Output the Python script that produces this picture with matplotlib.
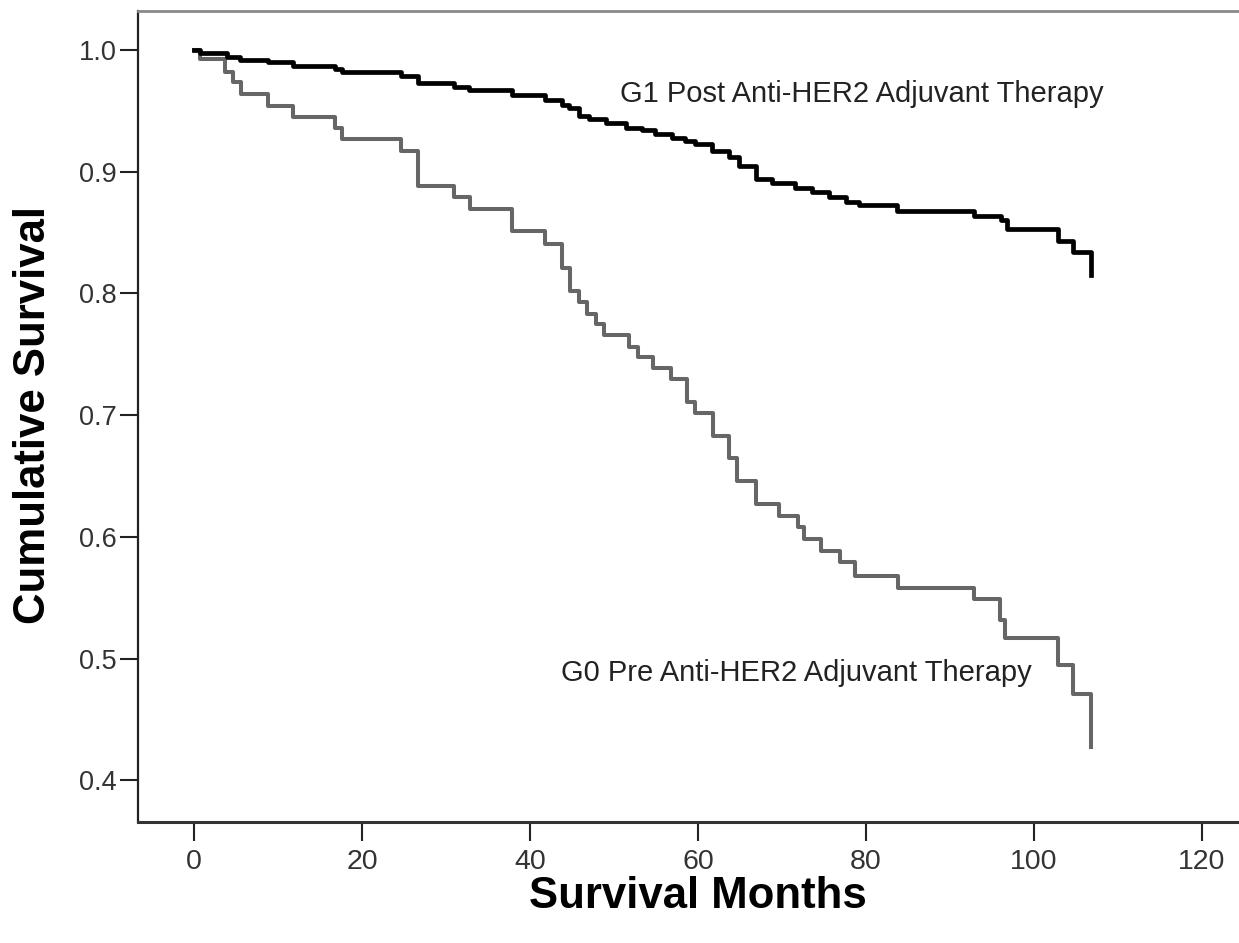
import matplotlib
matplotlib.use("Agg")
import matplotlib.pyplot as plt

plt.rcParams['font.family'] = ['Liberation Sans', 'DejaVu Sans']

# G1: Post Anti-HER2 adjuvant therapy (black)
g1_time = [0, 0.7, 3.9, 5.5, 8.8, 11.8, 16.8, 17.6, 24.7, 26.7, 30.9, 32.7, 37.8,
           41.8, 43.8, 44.6, 45.8, 47.0, 49.0, 51.4, 53.3, 54.9, 56.9, 58.5, 59.7,
           61.7, 63.7, 64.9, 66.9, 68.8, 71.6, 73.6, 75.6, 77.6, 79.2, 83.7, 92.9,
           96.1, 96.8, 102.8, 104.6, 106.8]
g1_surv = [1.0, 0.9975, 0.9945, 0.992, 0.990, 0.987, 0.984, 0.982, 0.979, 0.973, 0.970, 0.967, 0.963,
           0.959, 0.955, 0.952, 0.946, 0.943, 0.940, 0.936, 0.934, 0.931, 0.928, 0.925, 0.923,
           0.917, 0.912, 0.905, 0.894, 0.891, 0.887, 0.883, 0.879, 0.875, 0.873, 0.868, 0.864,
           0.860, 0.853, 0.843, 0.834, 0.815]

# G0: Pre Anti-HER2 adjuvant therapy (grey)
g0_time = [0, 0.7, 3.7, 4.65, 5.64, 8.83, 11.8, 16.8, 17.6, 24.7, 26.7, 30.9, 32.8, 37.8,
           41.8, 43.8, 44.8, 45.8, 46.8, 47.8, 48.8, 51.8, 52.8, 54.7, 56.8, 58.7, 59.6,
           61.8, 63.7, 64.6, 66.9, 69.6, 71.9, 72.6, 74.6, 76.9, 78.7, 83.8, 92.9, 95.9,
           96.5, 102.9, 104.7, 106.8]
g0_surv = [1.0, 0.9926, 0.9817, 0.9735, 0.9638, 0.954, 0.945, 0.936, 0.927, 0.917, 0.888, 0.879, 0.869, 0.851,
           0.841, 0.821, 0.802, 0.793, 0.783, 0.775, 0.766, 0.756, 0.748, 0.739, 0.730, 0.7105, 0.702,
           0.683, 0.665, 0.646, 0.627, 0.617, 0.608, 0.598, 0.588, 0.579, 0.568, 0.558, 0.549, 0.532,
           0.517, 0.495, 0.471, 0.427]

x_ticks = [0, 20, 40, 60, 80, 100, 120]
y_ticks = [0.4, 0.5, 0.6, 0.7, 0.8, 0.9, 1.0]
label_g1 = "G1 Post Anti-HER2 Adjuvant Therapy"
label_g0 = "G0 Pre Anti-HER2 Adjuvant Therapy"

fig = plt.figure(figsize=(12.39, 9.43), dpi=100)
W, H = 1239, 943
left_px, right_px, top_px, bottom_px = 138.3, 1239, 10.5, 821.7
ax = fig.add_axes([left_px / W, 1 - bottom_px / H,
                   (right_px - left_px) / W, (bottom_px - top_px) / H])

ax.step(g0_time, g0_surv, where='post', color='#666666', lw=2.9, zorder=2)
ax.step(g1_time, g1_surv, where='post', color='#000000', lw=3.4, zorder=3)

x0_px, px_per_unit = 194.0, 8.4
ax.set_xlim((left_px - x0_px) / px_per_unit, (right_px - x0_px) / px_per_unit)
ax.set_ylim(0.4 - 41.5 / 1217.0, 1.0 + 39.5 / 1217.0)

ax.set_xticks(x_ticks)
ax.set_yticks(y_ticks)
ax.set_xticklabels([str(v) for v in x_ticks])
ax.set_yticklabels([f"{v:.1f}" for v in y_ticks])

ax.tick_params(axis='y', direction='out', length=13, width=1.5, pad=2.5,
               labelsize=19.5, labelcolor='#333333', color='#222222')
ax.tick_params(axis='x', direction='out', length=14, width=1.5, pad=6,
               labelsize=20.5, labelcolor='#333333', color='#222222')

ax.spines['right'].set_visible(False)
ax.spines['top'].set_color('#8a8a8a')
ax.spines['top'].set_linewidth(2.0)
ax.spines['left'].set_color('#222222')
ax.spines['left'].set_linewidth(1.6)
ax.spines['bottom'].set_color('#333333')
ax.spines['bottom'].set_linewidth(2.2)

ax.set_ylabel("Cumulative Survival", fontsize=31.5, fontweight='bold', va='center', ha='center')
ax.yaxis.set_label_coords(33.5 / W, 1 - 415 / H, transform=fig.transFigure)
ax.set_xlabel("Survival Months", fontsize=31.5, fontweight='bold', va='center', ha='center')
ax.xaxis.set_label_coords(698 / W, 1 - 897 / H, transform=fig.transFigure)

ax.text(50.7, 0.957, label_g1, fontsize=21, color='#222222', ha='left', va='baseline')
ax.text(43.65, 0.4815, label_g0, fontsize=21, color='#222222', ha='left', va='baseline')

fig.savefig("out.png", dpi=100)
